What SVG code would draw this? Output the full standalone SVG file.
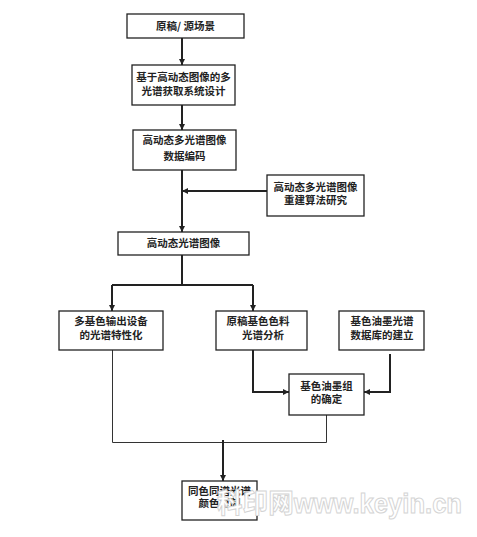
<svg xmlns="http://www.w3.org/2000/svg" width="477" height="537" viewBox="0 0 477 537">
<style>
.box{fill:#fff;stroke:#222;stroke-width:1.3}
.t{font-family:"Noto Sans CJK SC","Liberation Sans",sans-serif;font-size:10.5px;font-weight:bold;fill:#222;text-anchor:middle}
.a{fill:none;stroke:#222;stroke-width:2}
.l{fill:none;stroke:#333;stroke-width:1}
.wm{font-family:"Liberation Sans","Noto Sans CJK SC",sans-serif;font-weight:bold;font-size:27px;fill:#fff;stroke:#d4d4d4;stroke-width:1}
</style>
<defs>
<marker id="ah" viewBox="0 0 10 10" refX="10" refY="5" markerWidth="3.2" markerHeight="3.2" orient="auto" markerUnits="strokeWidth">
<path d="M0,0 L10,5 L0,10 Z" fill="#222"/>
</marker>
</defs>
<rect width="477" height="537" fill="#fff"/>
<g id="connectors">
<path class="a" d="M182,38 V65" marker-end="url(#ah)"/>
<path class="a" d="M182,105 V130" marker-end="url(#ah)"/>
<path class="a" d="M182,170 V232" marker-end="url(#ah)"/>
<path class="a" d="M267,191 H182" marker-end="url(#ah)"/>
<path class="a" d="M182,255 V285"/>
<path class="a" d="M112,285 H253"/>
<path class="a" d="M112,285 V311" marker-end="url(#ah)"/>
<path class="a" d="M253,285 V311" marker-end="url(#ah)"/>
<path class="a" d="M253,350 V392 H289" marker-end="url(#ah)"/>
<path class="a" d="M390,354 V392 H364" marker-end="url(#ah)"/>
<path class="l" d="M112.5,350 V442.5 H326.5 V415"/>
<path class="a" d="M223,440 V481" marker-end="url(#ah)"/>
</g>
<g id="n1"><rect class="box" x="127" y="14" width="117" height="24"/><text class="t" x="185.5" y="30">原稿/ 源场景</text></g>
<g id="n2"><rect class="box" x="132" y="65" width="103" height="40"/><text class="t" x="183.5" y="81">基于高动态图像的多</text><text class="t" x="183.5" y="95">光谱获取系统设计</text></g>
<g id="n3"><rect class="box" x="133" y="130" width="103" height="40"/><text class="t" x="184.5" y="144">高动态多光谱图像</text><text class="t" x="184.5" y="160">数据编码</text></g>
<g id="n4"><rect class="box" x="267" y="175" width="97" height="41"/><text class="t" x="315.5" y="191">高动态多光谱图像</text><text class="t" x="315.5" y="204">重建算法研究</text></g>
<g id="n5"><rect class="box" x="118" y="232" width="131" height="23"/><text class="t" x="183.5" y="247">高动态光谱图像</text></g>
<g id="n6"><rect class="box" x="59" y="311" width="104" height="39"/><text class="t" x="111" y="325">多基色输出设备</text><text class="t" x="111" y="339">的光谱特性化</text></g>
<g id="n7"><rect class="box" x="216" y="311" width="91" height="39"/><text class="t" x="258" y="325">原稿基色色料</text><text class="t" x="263" y="339">光谱分析</text></g>
<g id="n8"><rect class="box" x="339" y="311" width="85" height="39"/><text class="t" x="382" y="325">基色油墨光谱</text><text class="t" x="382" y="339">数据库的建立</text></g>
<g id="n9"><rect class="box" x="289" y="374" width="75" height="41"/><text class="t" x="326.5" y="390">基色油墨组</text><text class="t" x="326.5" y="403">的确定</text></g>
<g id="n10"><rect class="box" x="182" y="481" width="75" height="39"/><text class="t" x="219.5" y="495">同色同谱光谱</text><text class="t" x="219.5" y="507">颜色复制</text></g>
<text class="wm" x="217" y="513" textLength="245" lengthAdjust="spacingAndGlyphs">科印网www.keyin.cn</text>
</svg>
